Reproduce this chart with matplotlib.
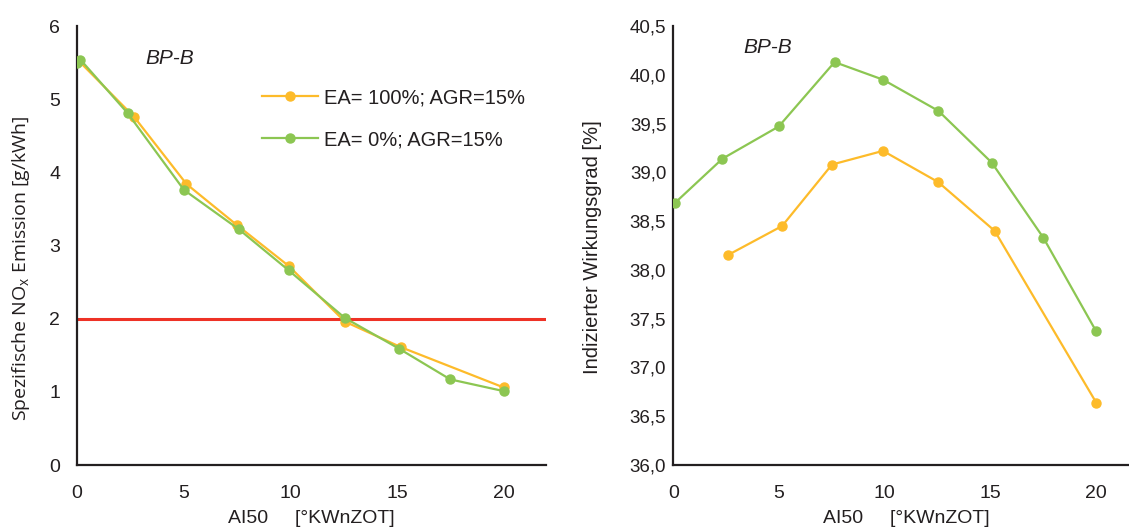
import matplotlib
matplotlib.use("Agg")
import matplotlib.pyplot as plt
from matplotlib.ticker import FuncFormatter

plt.rcParams['font.family'] = ['Liberation Sans', 'DejaVu Sans']

# Left chart: NOx emission
nox_x_ea100 = [0.1, 2.68, 5.14, 7.5, 9.93, 12.56, 15.19, 20.0]
nox_y_ea100 = [5.52, 4.76, 3.84, 3.28, 2.72, 1.96, 1.61, 1.06]
nox_x_ea0 = [0.0, 0.17, 2.38, 5.02, 7.6, 9.93, 12.56, 15.1, 17.5, 20.0]
nox_y_ea0 = [5.49, 5.54, 4.81, 3.76, 3.22, 2.66, 2.01, 1.59, 1.17, 1.01]
nox_limit = 2.0

# Right chart: indicated efficiency
eff_x_ea100 = [2.57, 5.15, 7.51, 9.92, 12.53, 15.2, 20.0]
eff_y_ea100 = [38.15, 38.45, 39.08, 39.22, 38.90, 38.40, 36.64]
eff_x_ea0 = [0.1, 2.33, 4.99, 7.63, 9.92, 12.54, 15.06, 17.5, 20.0]
eff_y_ea0 = [38.69, 39.14, 39.47, 40.13, 39.95, 39.63, 39.10, 38.33, 37.37]

labels = ['EA= 100%; AGR=15%', 'EA= 0%; AGR=15%']
c_orange = '#FDBB2A'
c_green = '#8CC652'
c_red = '#EE3226'
c_text = '#231F20'

W, H = 1129, 528
fig = plt.figure(figsize=(W / 100, H / 100), dpi=100)

def px_axes(x0, x1, y_top, y_bot):
    return fig.add_axes([x0 / W, 1 - y_bot / H, (x1 - x0) / W, (y_bot - y_top) / H])

ax1 = px_axes(76.8, 546.3, 26, 465)
ax2 = px_axes(673.2, 1138.5, 26, 465)

lw = 1.6
ms = 6.5
for ax in (ax1, ax2):
    for s in ('top', 'right'):
        ax.spines[s].set_visible(False)
    for s in ('left', 'bottom'):
        ax.spines[s].set_linewidth(1.6)
        ax.spines[s].set_color(c_text)
    ax.tick_params(axis='x', length=0, labelsize=14, colors=c_text, pad=14.5)
    ax.set_xlim(0, 22)
    ax.set_xticks([0, 5, 10, 15, 20])

ax1.tick_params(axis='y', length=0, labelsize=14, colors=c_text, pad=12)
ax2.tick_params(axis='y', length=0, labelsize=13.5, colors=c_text, pad=5)

# Left
ax1.axhline(nox_limit, color=c_red, lw=2.2, zorder=1)
ax1.plot(nox_x_ea100, nox_y_ea100, '-o', color=c_orange, lw=lw, ms=ms, label=labels[0], zorder=3)
ax1.plot(nox_x_ea0, nox_y_ea0, '-o', color=c_green, lw=lw, ms=ms, label=labels[1], zorder=4)
ax1.set_ylim(0, 6)
ax1.set_yticks(range(0, 7))
ax1.set_ylabel('Spezifische NO$_\\mathregular{x}$ Emission [g/kWh]', fontsize=14,
               family=['Open Sans', 'DejaVu Sans'], color=c_text)
ax1.yaxis.set_label_coords((32 - 76.8) / 469.5, (465 - 268) / 439)
ax1.set_xlabel('AI50     [°KWnZOT]', fontsize=14, color=c_text, labelpad=6)
ax1.text(3.2, 5.55, 'BP-B', fontsize=15, style='italic', color=c_text, va='center')
leg = ax1.legend(loc='upper left', bbox_to_anchor=((262 - 76.8) / 469.5, (465 - 88) / 439),
                 frameon=False, fontsize=14.5, handlelength=2.8, handletextpad=0.3,
                 labelspacing=1.15, borderaxespad=0, borderpad=0)
for t in leg.get_texts():
    t.set_color(c_text)

# Right
ax2.plot(eff_x_ea100, eff_y_ea100, '-o', color=c_orange, lw=lw, ms=ms, zorder=3)
ax2.plot(eff_x_ea0, eff_y_ea0, '-o', color=c_green, lw=lw, ms=ms, zorder=4)
ax2.set_ylim(36.0, 40.5)
ax2.set_yticks([36.0, 36.5, 37.0, 37.5, 38.0, 38.5, 39.0, 39.5, 40.0, 40.5])
ax2.yaxis.set_major_formatter(FuncFormatter(lambda v, p: f'{v:.1f}'.replace('.', ',')))
ax2.set_ylabel('Indizierter Wirkungsgrad [%]', fontsize=14.5, color=c_text)
ax2.yaxis.set_label_coords((602 - 673.2) / 465.3, (465 - 247) / 439)
ax2.set_xlabel('AI50     [°KWnZOT]', fontsize=14, color=c_text, labelpad=6)
ax2.text(3.3, 40.28, 'BP-B', fontsize=15, style='italic', color=c_text, va='center')

fig.savefig('out.png', dpi=100)
